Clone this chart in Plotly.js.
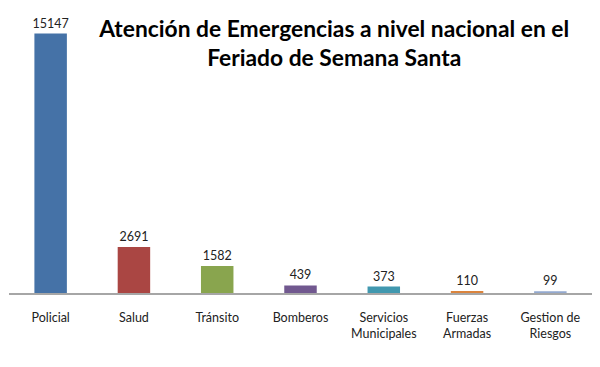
<!DOCTYPE html>
<html><head><meta charset="utf-8">
<script src="https://cdn.plot.ly/plotly-3.0.1.min.js"></script>
<style>body{margin:0;padding:0;background:#fff}#chart{width:600px;height:367px}</style>
</head><body><div id="chart"></div>
<script>
const categories = ["Policial","Salud","Tránsito","Bomberos","Servicios<br>Municipales","Fuerzas<br>Armadas","Gestion de<br>Riesgos"];
const values = [15147, 2691, 1582, 439, 373, 110, 99];
const colors = ["#4572A7","#AA4643","#89A54E","#71588F","#4198AF","#DB843D","#93A9CF"];
const titleText = "Atención de Emergencias a nivel nacional en el<br>Feriado de Semana Santa";

Plotly.newPlot("chart", [{
  type: "bar", x: categories, y: values,
  marker: {color: colors},
  width: 0.39,
  text: values.map(String), textposition: "outside", cliponaxis: false, constraintext: "none",
  textfont: {family: "Lato, 'Open Sans', sans-serif", size: 12.5, color: "#222"},
  hoverinfo: "none"
}], {
  width: 600, height: 367,
  margin: {l: 9, r: 8, t: 19, b: 74},
  paper_bgcolor: "#fff", plot_bgcolor: "#fff",
  showlegend: false,
  title: {text: titleText, x: 0.557, xanchor: "center", y: 0.9, yanchor: "middle", yref: "container",
          font: {family: "Lato, sans-serif", size: 22.8, color: "#000", weight: "bold"}},
  xaxis: {showline: true, linecolor: "#A6A6A6", linewidth: 2, ticks: "outside", ticklen: 12, tickcolor: "rgba(0,0,0,0)",
          tickfont: {family: "Lato, 'Open Sans', sans-serif", size: 12.5, color: "#222"}, fixedrange: true},
  yaxis: {range: [0, 16000], visible: false, showgrid: false, zeroline: false, fixedrange: true},
  font: {family: "Lato, sans-serif"}
}, {staticPlot: true});
</script></body></html>
